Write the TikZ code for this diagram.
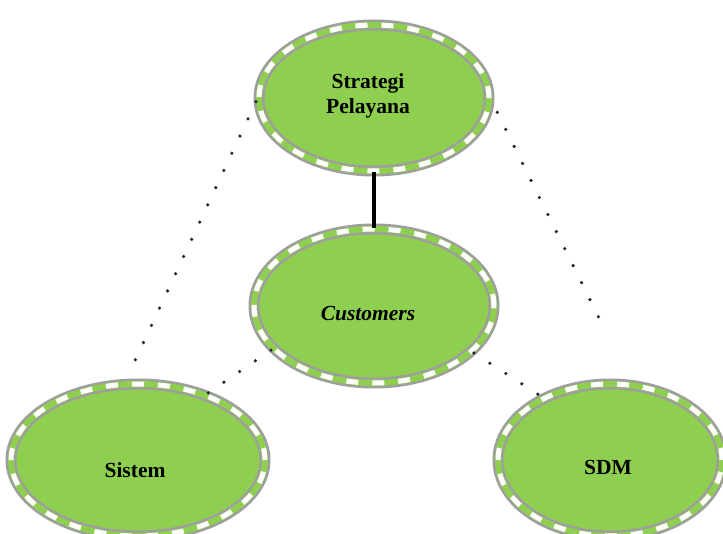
\documentclass[tikz,border=0pt]{standalone}
\usepackage{fontspec}
\setmainfont{Liberation Serif}
\usetikzlibrary{shapes.geometric}
\definecolor{ovgreen}{HTML}{8FCF4F}
\definecolor{ovgray}{HTML}{9E9E9E}
\tikzset{
  oval/.style={ellipse, inner sep=0pt, fill=ovgreen, draw=ovgray, line width=2.5pt,
    double=ovgreen, double distance=6pt,
    postaction={draw=white, line width=5pt, double=none, dash pattern=on 12pt off 14pt}},
  lbl/.style={font=\bfseries\fontsize{21.5}{25}\selectfont, align=center, text=black},
  dotline/.style={line width=3.6pt, dash pattern=on 0pt off 19pt, line cap=round, black!85},
  solidline/.style={line width=4pt, black}
}
\begin{document}
\begin{tikzpicture}[x=1pt,y=-1pt]
\useasboundingbox[fill=white] (0,0) rectangle (723,534);
\node[oval, minimum width=230pt, minimum height=146pt] (strat) at (374,98) {};
\node[oval, minimum width=240pt, minimum height=154pt] (cust) at (374,306) {};
\node[oval, minimum width=254pt, minimum height=152pt] (sis) at (138,460) {};
\node[oval, minimum width=224pt, minimum height=152pt] (sdm) at (610,460) {};
\draw[solidline] (strat.south) -- (cust.north);
\draw[dotline, shorten <=4pt, shorten >=18pt] (strat.west) -- (sis.100);
\draw[dotline, shorten <=16pt, shorten >=68pt] (strat.east) -- (sdm.74);
\draw[dotline, shorten <=2pt] (cust.203) -- (sis.44);
\draw[dotline, shorten <=2pt] (cust.335) -- (sdm.137);
\node[lbl] (tstrat) at (368,96) {Strategi\\Pelayana};
\node[lbl] (tcust) at (368,314) {\itshape Customers};
\node[lbl] (tsis) at (135,470) {Sistem};
\node[lbl] (tsdm) at (608,467) {SDM};
\end{tikzpicture}
\end{document}
